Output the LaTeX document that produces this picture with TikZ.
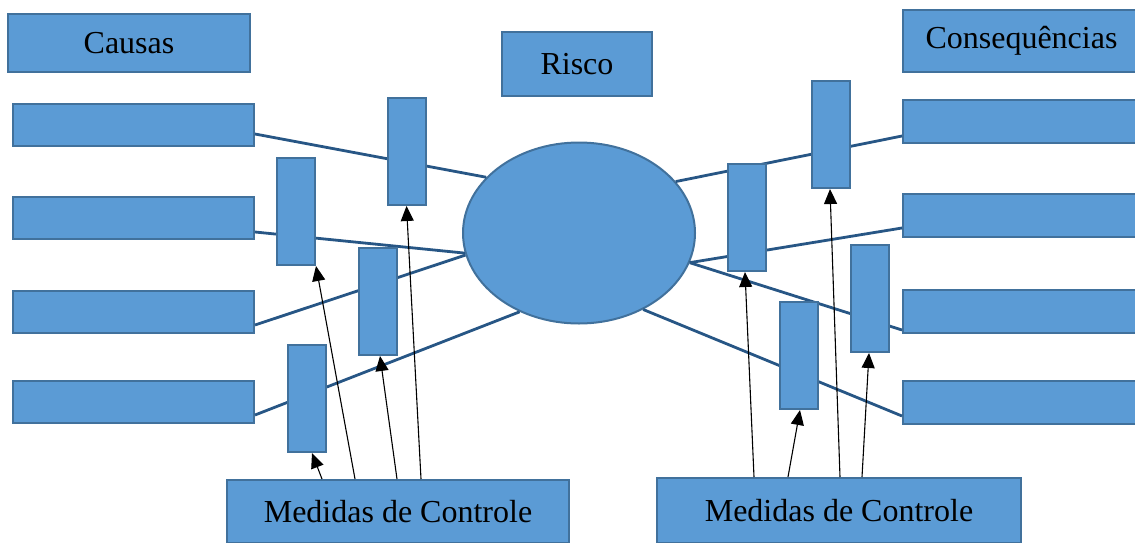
\documentclass[tikz,border=0pt]{standalone}
\usepackage{fontspec}
\setmainfont{Liberation Serif}
\usetikzlibrary{arrows.meta,shapes.geometric}
\definecolor{boxfill}{HTML}{5B9BD5}
\definecolor{boxline}{HTML}{41719C}
\definecolor{conn}{HTML}{275685}
\tikzset{
  box/.style={draw=boxline, fill=boxfill, line width=2pt, inner sep=0pt, font=\fontsize{32}{37}\selectfont},
  ctl/.style={box, minimum width=38pt, minimum height=107pt},
  wide/.style={box, minimum width=241pt, minimum height=42pt},
  wideR/.style={box, minimum width=237pt, minimum height=43pt},
  link/.style={draw=conn, line width=2.8pt},
  arr/.style={draw=black, line width=1.1pt, -{Triangle[length=15pt,width=13pt]}}
}
\begin{document}
\begin{tikzpicture}[x=1pt,y=-1pt]
\useasboundingbox (0,0) rectangle (1135,543);
% headers
\node[box, minimum width=242pt, minimum height=58pt] (causas) at (129,43) {Causas};
\node[box, minimum width=150pt, minimum height=64pt] (risco) at (577,64) {Risco};
\node[box, minimum width=237pt, minimum height=62pt] (cons) at (1021.5,41) {Consequências};
% left boxes
\node[wide] (l1) at (133.5,125) {};
\node[wide] (l2) at (133.5,218) {};
\node[wide] (l3) at (133.5,311.5) {};
\node[wide] (l4) at (133.5,402) {};
% right boxes
\node[wideR] (r1) at (1021.5,121.5) {};
\node[wideR] (r2) at (1021.5,215.5) {};
\node[wideR] (r3) at (1021.5,311.5) {};
\node[wideR] (r4) at (1021.5,402) {};
% risk ellipse
\node[box, ellipse, minimum width=232pt, minimum height=181pt] (ell) at (579,233) {};
% medidas
\node[box, minimum width=342pt, minimum height=63pt] (medL) at (398,511.5) {Medidas de Controle};
\node[box, minimum width=364pt, minimum height=65pt] (medR) at (839,510.5) {Medidas de Controle};
% connectors
\draw[link] ([yshift=-9pt]l1.east) -- (ell.149);
\draw[link] ([yshift=-14pt]l2.east) -- (ell.190);
\draw[link] ([yshift=-13.5pt]l3.east) -- (ell.191);
\draw[link] ([yshift=-13pt]l4.east) -- (ell.233);
\draw[link] (ell.28) -- ([yshift=-14.5pt]r1.west);
\draw[link] (ell.345) -- ([yshift=-12.5pt]r2.west);
\draw[link] (ell.345) -- ([yshift=-18.5pt]r3.west);
\draw[link] (ell.310.5) -- ([yshift=-14pt]r4.west);
% control bars
\node[ctl] (c1) at (406.5,151.5) {};
\node[ctl] (c2) at (296,211.5) {};
\node[ctl] (c3) at (378,301.5) {};
\node[ctl] (c4) at (307,398.5) {};
\node[ctl] (d1) at (831,134.5) {};
\node[ctl] (d2) at (747,217.5) {};
\node[ctl] (d3) at (870,298.5) {};
\node[ctl] (d4) at (799,355.5) {};
% arrows
\draw[arr] ([xshift=-76pt]medL.north) -- ([xshift=5pt]c4.south);
\draw[arr] ([xshift=-43pt]medL.north) -- ([xshift=20pt]c2.south);
\draw[arr] ([xshift=-1pt]medL.north) -- ([xshift=2pt]c3.south);
\draw[arr] ([xshift=23pt]medL.north) -- (c1.south);
\draw[arr] ([xshift=-85pt]medR.north) -- ([xshift=-2pt]d2.south);
\draw[arr] ([xshift=-51pt]medR.north) -- ([xshift=1pt]d4.south);
\draw[arr] ([xshift=1pt]medR.north) -- ([xshift=-1pt]d1.south);
\draw[arr] ([xshift=23pt]medR.north) -- ([xshift=-1pt]d3.south);
\end{tikzpicture}
\end{document}
